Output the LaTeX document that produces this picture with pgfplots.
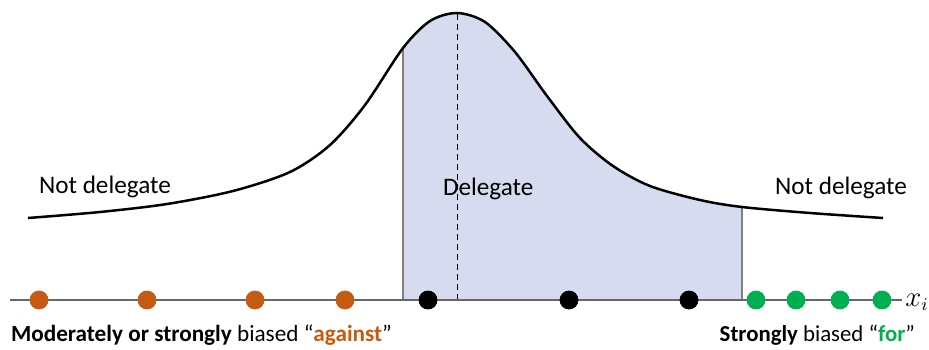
\documentclass[border=0pt]{standalone}
\usepackage{pgfplots}
\pgfplotsset{compat=1.18}
\usepgfplotslibrary{fillbetween}
\usepackage{fontspec}
\setmainfont{Carlito}
\definecolor{against}{HTML}{C55A11}
\definecolor{forcol}{HTML}{00B050}
\definecolor{delegfill}{HTML}{D6DBEF}
\definecolor{axisgray}{HTML}{808080}
\pgfplotstableread{
x y
28 218
100 212
167 204
233 191
290 172
330 145
365 105
403 48
430 21
457 13
485 22
515 52
547 96
580 138
613 166
650 186
700 200
742 207
810 213
883 218
}\curvedata
\begin{document}
\begin{tikzpicture}
% pixel-like units, y runs downwards
\begin{axis}[
    scale only axis,
    width=464.5pt, height=174.5pt,
    xmin=0, xmax=929, ymin=0, ymax=349,
    y dir=reverse,
    axis lines=none,
    clip=false,
]
\addplot[name path=curve, draw=none, smooth] table {\curvedata};
\addplot[name path=base, draw=none] coordinates {(0,300) (929,300)};
\addplot[fill=delegfill, draw=none] fill between[of=curve and base, soft clip={domain=403:742}];

% boundaries of the delegate region
\addplot[axisgray, line width=0.6pt] coordinates {(403,300) (403,48)};
\addplot[axisgray, line width=0.6pt] coordinates {(742,300) (742,207)};
\addplot[black, densely dashed, line width=0.5pt] coordinates {(457,300) (457,13)};

% density curve
\addplot[black, line width=1.25pt, smooth] table {\curvedata};

% x axis
\addplot[axisgray!80!black, line width=0.75pt] coordinates {(10,300) (902,300)};

% agents
\addplot[only marks, mark=*, mark size=4.5pt, against, mark options={draw=against, fill=against}]
    coordinates {(39,300) (147,300) (255,300) (345,300)};
\addplot[only marks, mark=*, mark size=4.5pt, black]
    coordinates {(428,300) (569,300) (689,300)};
\addplot[only marks, mark=*, mark size=4.5pt, forcol, mark options={draw=forcol, fill=forcol}]
    coordinates {(756,300) (796,300) (840,300) (882,300)};

% labels
\node[anchor=west, font=\fontsize{12.6}{14}\selectfont] at (axis cs:32,187) {Not delegate};
\node[anchor=west, font=\fontsize{12.6}{14}\selectfont] at (axis cs:436,189) {Delegate};
\node[anchor=west, font=\fontsize{12.6}{14}\selectfont] at (axis cs:768,188) {Not delegate};
\node[anchor=west, inner sep=0pt, font=\fontsize{13.5}{16}\selectfont] at (axis cs:905,302) {$x_i$};
\node[anchor=west, font=\fontsize{11.6}{13}\selectfont] at (axis cs:4,335)
    {\textbf{Moderately or strongly} biased “\textcolor{against}{\textbf{against}}”};
\node[anchor=east, font=\fontsize{11.4}{13}\selectfont] at (axis cs:922,335)
    {\textbf{Strongly} biased “\textcolor{forcol}{\textbf{for}}”};
\end{axis}
\pgfresetboundingbox
\useasboundingbox (current axis.south west) rectangle (current axis.north east);
\end{tikzpicture}
\end{document}
